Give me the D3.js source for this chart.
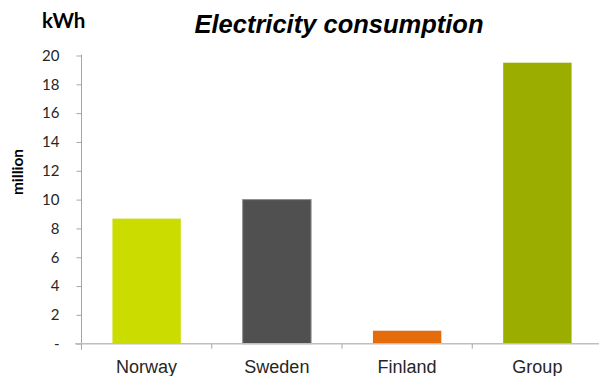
<!DOCTYPE html>
<html>
<head>
<meta charset="utf-8">
<script src="https://cdn.jsdelivr.net/npm/d3@7"></script>
<style>
  html, body { margin: 0; padding: 0; background: #fff; }
  svg { display: block; }
</style>
</head>
<body>
<svg id="chart" width="599" height="376"></svg>
<script>
// Electricity consumption per country, million kWh
const categories = ["Norway", "Sweden", "Finland", "Group"];
const values = [8.68, 10.0, 0.9, 19.5];
const barColors = ["#cbdc00", "#505050", "#e46c0a", "#9bae00"];
const yTicks = [0, 2, 4, 6, 8, 10, 12, 14, 16, 18, 20];

const svg = d3.select("#chart");

const x0 = 81.5, x1 = 602.5;
const y0 = 343.7, y1 = 55.5;

const x = d3.scaleBand()
  .domain(categories)
  .range([x0, x1])
  .paddingInner(0.475)
  .paddingOuter(0.2375);

const y = d3.scaleLinear()
  .domain([0, 20])
  .range([y0, y1]);

// Bars
svg.append("g")
  .selectAll("rect")
  .data(categories)
  .join("rect")
  .attr("x", d => x(d))
  .attr("width", x.bandwidth())
  .attr("y", (d, i) => y(values[i]))
  .attr("height", (d, i) => y(0) - y(values[i]))
  .attr("fill", (d, i) => barColors[i])
  .attr("stroke", (d, i) => i === 1 ? "#8a8a8a" : "none")
  .attr("stroke-width", 1);

// Y axis
const yAxis = d3.axisLeft(y)
  .tickValues(yTicks)
  .tickSize(5)
  .tickPadding(17)
  .tickFormat(d => d === 0 ? "-" : d3.format("d")(d));

const gy = svg.append("g")
  .attr("transform", `translate(${x0},0)`)
  .call(yAxis);
gy.select(".domain")
  .attr("stroke", "#a6a6a6")
  .attr("d", `M0,${y1 - 1}V${y0 + 6}`);
gy.selectAll(".tick line").attr("stroke", "#a6a6a6");
gy.selectAll(".tick text")
  .attr("fill", "#262626")
  .style("font-family", "Lato, 'Open Sans', sans-serif")
  .style("font-size", "15px");

// X axis baseline with category boundary ticks
const step = x.step();
const boundaries = d3.range(categories.length + 1).map(i => x0 + i * step);
const gx = svg.append("g");
gx.append("line")
  .attr("x1", 75).attr("x2", 599)
  .attr("y1", y0).attr("y2", y0)
  .attr("stroke", "#bfbfbf").attr("stroke-width", 1.5);
gx.selectAll("line.bound")
  .data(boundaries.slice(1))
  .join("line")
  .attr("class", "bound")
  .attr("x1", d => d).attr("x2", d => d)
  .attr("y1", y0).attr("y2", y0 + 5)
  .attr("stroke", "#a6a6a6");
gx.selectAll("text")
  .data(categories)
  .join("text")
  .attr("x", d => x(d) + x.bandwidth() / 2)
  .attr("y", 373)
  .attr("text-anchor", "middle")
  .attr("fill", "#262626")
  .style("font-family", "'Liberation Sans', Arial, sans-serif")
  .style("font-size", "18px")
  .text(d => d);

// Title
svg.append("text")
  .attr("x", 339)
  .attr("y", 33)
  .attr("text-anchor", "middle")
  .style("font-family", "'Liberation Sans', Arial, sans-serif")
  .style("font-size", "25.5px")
  .style("font-weight", "bold")
  .style("font-style", "italic")
  .attr("fill", "#000")
  .text("Electricity consumption");

// Unit labels
svg.append("text")
  .attr("x", 42)
  .attr("y", 28)
  .style("font-family", "Lato, 'Open Sans', sans-serif")
  .style("font-size", "20.5px")
  .style("font-weight", "bold")
  .attr("fill", "#000")
  .text("kWh");

svg.append("text")
  .attr("transform", "translate(23,172) rotate(-90)")
  .attr("text-anchor", "middle")
  .style("font-family", "Lato, 'Open Sans', sans-serif")
  .style("font-size", "15.5px")
  .style("font-weight", "bold")
  .attr("fill", "#000")
  .text("million");
</script>
</body>
</html>
